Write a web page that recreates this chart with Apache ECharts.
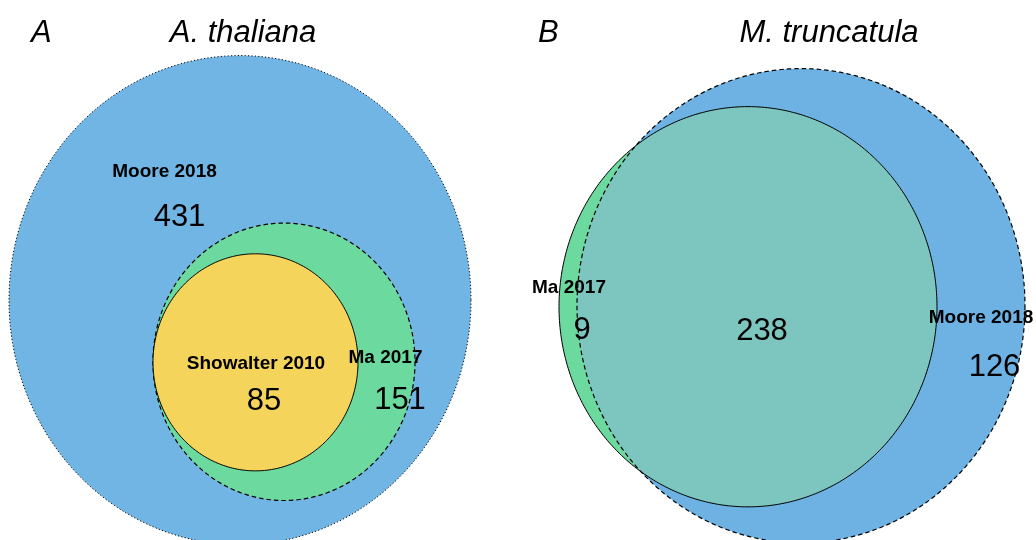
<!DOCTYPE html>
<html>
<head>
<meta charset="utf-8">
<script src="https://cdn.jsdelivr.net/npm/echarts@6/dist/echarts.min.js"></script>
<style>
  html, body { margin: 0; padding: 0; background: #ffffff; }
  #chart { width: 1036px; height: 540px; }
</style>
</head>
<body>
<div id="chart"></div>
<script>
// Panel headings
const panelLetters = ['A', 'B'];
const speciesNames = ['A. thaliana', 'M. truncatula'];

// A. thaliana gene sets and region counts
const thalianaSets = ['Moore 2018', 'Ma 2017', 'Showalter 2010'];
const thalianaCounts = [431, 151, 85];      // Moore only, Ma only, Showalter (inside both)

// M. truncatula gene sets and region counts
const truncatulaSets = ['Ma 2017', 'Moore 2018'];
const truncatulaCounts = [9, 238, 126];     // Ma only, shared, Moore only

// ---- layout (axis units; y axis is slightly stretched on screen) ----
// circles: [cx, cy, r]
const thalianaCircles = [[240, 283.5, 231], [284, 341.7, 131], [255.5, 342.2, 102.5]];
const truncatulaCircles = { ma: [748, 289.7, 189], moore: [801, 288.8, 224] };

// anchors for the set names and counts
const thalianaNamePos = [[164.5, 162], [385.5, 337.6], [256, 343.2]];
const thalianaCountPos = [[179.5, 205], [400, 378], [264, 378.9]];
const truncatulaNamePos = [[569, 271.8], [981, 300]];
const truncatulaCountPos = [[582, 311.8], [762, 312.8], [994.5, 346.8]];

const FONT = "'Liberation Sans', Arial, Helvetica, sans-serif";

const BLUE_A = '#71b5e4';
const BLUE_B = '#6db2e3';
const GREEN = '#6cda9e';
const YELLOW = '#f4d45b';
const TEAL = '#7dc6c0';

const thalianaStyles = [
  { fill: BLUE_A, dash: [1.2, 2.2], width: 1 },
  { fill: GREEN, dash: [4.5, 3], width: 1.2 },
  { fill: YELLOW, dash: null, width: 1 }
];

// polygon approximating a circle drawn in axis space
function ellipsePoints(api, cx, cy, r, n) {
  const c = api.coord([cx, cy]);
  const s = api.size([r, r]);
  const rx = Math.abs(s[0]), ry = Math.abs(s[1]);
  const pts = [];
  for (let i = 0; i < n; i++) {
    const t = (i / n) * Math.PI * 2;
    pts.push([c[0] + rx * Math.cos(t), c[1] + ry * Math.sin(t)]);
  }
  return pts;
}

// arc of circle c (axis units) between two points, taking the side inside `other`
function arcInside(c, other, from, to, n) {
  const a0 = Math.atan2(from[1] - c[1], from[0] - c[0]);
  const a1 = Math.atan2(to[1] - c[1], to[0] - c[0]);
  let span = a1 - a0;
  while (span < 0) span += Math.PI * 2;
  const mid = a0 + span / 2;
  const mx = c[0] + c[2] * Math.cos(mid), my = c[1] + c[2] * Math.sin(mid);
  if (Math.hypot(mx - other[0], my - other[1]) > other[2]) span -= Math.PI * 2;
  const pts = [];
  for (let i = 0; i <= n; i++) {
    const t = a0 + span * i / n;
    pts.push([c[0] + c[2] * Math.cos(t), c[1] + c[2] * Math.sin(t)]);
  }
  return pts;
}

// overlap region of two circles, in axis units
function lensPoints(a, b) {
  const dx = b[0] - a[0], dy = b[1] - a[1];
  const d = Math.hypot(dx, dy);
  const l = (a[2] * a[2] - b[2] * b[2] + d * d) / (2 * d);
  const h = Math.sqrt(a[2] * a[2] - l * l);
  const mx = a[0] + l * dx / d, my = a[1] + l * dy / d;
  const p1 = [mx - h * dy / d, my + h * dx / d];
  const p2 = [mx + h * dy / d, my - h * dx / d];
  return arcInside(b, a, p1, p2, 160).concat(arcInside(a, b, p2, p1, 160));
}

function textEl(api, x, y, text, bold) {
  const p = api.coord([x, y]);
  return {
    type: 'text',
    x: p[0], y: p[1],
    style: {
      text: String(text),
      fontFamily: FONT,
      fontSize: bold ? 19 : 31,
      fontWeight: bold ? 'bold' : 'normal',
      fill: '#000000',
      align: 'center',
      verticalAlign: 'middle'
    }
  };
}

const chart = echarts.init(document.getElementById('chart'), null, { renderer: 'canvas' });

const titleStyle = { fontFamily: FONT, fontSize: 31, fontStyle: 'italic', fontWeight: 'normal', color: '#000000' };

chart.setOption({
  backgroundColor: '#ffffff',
  animation: false,
  title: [
    { text: panelLetters[0], left: 31, top: 18, padding: 0, textStyle: titleStyle },
    { text: speciesNames[0], left: 243, top: 18, textAlign: 'center', padding: 0, textStyle: titleStyle },
    { text: panelLetters[1], left: 538, top: 18, padding: 0, textStyle: titleStyle },
    { text: speciesNames[1], left: 829, top: 18, textAlign: 'center', padding: 0, textStyle: titleStyle }
  ],
  grid: { left: 0, right: 0, top: 0, bottom: 0 },
  xAxis: { type: 'value', min: 0, max: 1036, show: false },
  yAxis: { type: 'value', min: 0, max: 510, inverse: true, show: false },
  series: [
    {
      // A. thaliana: nested sets
      type: 'custom',
      name: speciesNames[0],
      clip: false,
      data: thalianaCircles,
      renderItem: function (params, api) {
        const st = thalianaStyles[params.dataIndex];
        return {
          type: 'polygon',
          shape: { points: ellipsePoints(api, api.value(0), api.value(1), api.value(2), 360) },
          style: { fill: st.fill, stroke: '#000000', lineWidth: st.width, lineDash: st.dash }
        };
      }
    },
    {
      // M. truncatula: set fills
      type: 'custom',
      name: speciesNames[1] + ' fills',
      clip: false,
      data: [truncatulaCircles.moore, truncatulaCircles.ma],
      renderItem: function (params, api) {
        return {
          type: 'polygon',
          shape: { points: ellipsePoints(api, api.value(0), api.value(1), api.value(2), 360) },
          style: { fill: params.dataIndex === 0 ? BLUE_B : GREEN }
        };
      }
    },
    {
      // M. truncatula: shared region
      type: 'custom',
      name: speciesNames[1] + ' shared',
      clip: false,
      data: [truncatulaCircles.ma.concat(truncatulaCircles.moore)],
      renderItem: function (params, api) {
        const a = [api.value(0), api.value(1), api.value(2)];
        const b = [api.value(3), api.value(4), api.value(5)];
        const pts = lensPoints(a, b).map(function (p) { return api.coord(p); });
        return { type: 'polygon', shape: { points: pts }, style: { fill: TEAL } };
      }
    },
    {
      // M. truncatula: outlines
      type: 'custom',
      name: speciesNames[1] + ' outlines',
      clip: false,
      data: [truncatulaCircles.ma, truncatulaCircles.moore],
      renderItem: function (params, api) {
        const dashed = params.dataIndex === 1;
        return {
          type: 'polygon',
          shape: { points: ellipsePoints(api, api.value(0), api.value(1), api.value(2), 360) },
          style: {
            fill: null, stroke: '#000000', lineWidth: dashed ? 1.2 : 1,
            lineDash: dashed ? [4.5, 3] : null
          }
        };
      }
    },
    {
      // set names and region counts
      type: 'custom',
      name: 'labels',
      clip: false,
      data: [0],
      renderItem: function (params, api) {
        const children = [];
        thalianaSets.forEach(function (s, i) {
          children.push(textEl(api, thalianaNamePos[i][0], thalianaNamePos[i][1], s, true));
        });
        thalianaCounts.forEach(function (v, i) {
          children.push(textEl(api, thalianaCountPos[i][0], thalianaCountPos[i][1], v, false));
        });
        truncatulaSets.forEach(function (s, i) {
          children.push(textEl(api, truncatulaNamePos[i][0], truncatulaNamePos[i][1], s, true));
        });
        truncatulaCounts.forEach(function (v, i) {
          children.push(textEl(api, truncatulaCountPos[i][0], truncatulaCountPos[i][1], v, false));
        });
        return { type: 'group', children: children };
      }
    }
  ]
});
</script>
</body>
</html>
